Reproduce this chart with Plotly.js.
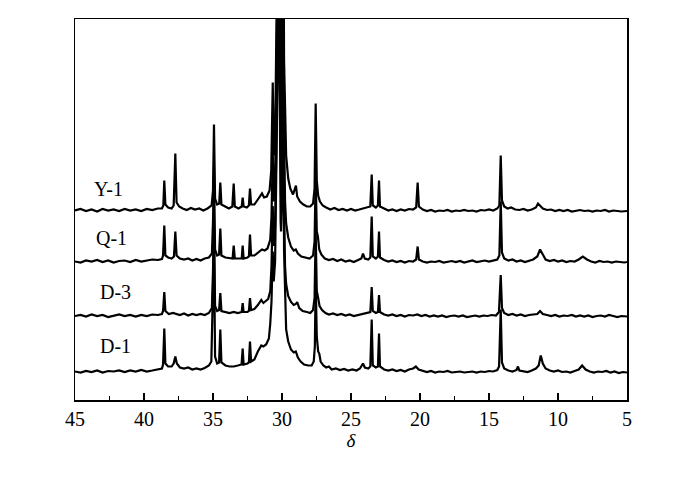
<!DOCTYPE html>
<html>
<head>
<meta charset="utf-8">
<script src="https://cdn.plot.ly/plotly-3.0.1.min.js"></script>
<style>
  body { margin: 0; background: #fff; }
  #chart { width: 700px; height: 481px; }
</style>
</head>
<body>
<div id="chart"></div>
<script>
// sample names, top to bottom
const sampleNames = ['Y-1', 'Q-1', 'D-3', 'D-1'];

// Y-1 : delta and intensity
const y1X = [45, 44.6, 44.2, 43.8, 43.4, 43.0, 42.6, 42.2, 41.8, 41.4, 41.0, 40.6, 40.2, 39.8, 39.4, 39.0, 38.7, 38.6, 38.53, 38.45,
  38.25, 38.0, 37.85, 37.73, 37.64, 37.45, 37.2, 36.9, 36.6, 36.3, 36.0, 35.7, 35.4, 35.1, 35.0, 34.93, 34.85, 34.7, 34.55, 34.47,
  34.39, 34.15, 33.85, 33.6, 33.5, 33.42, 33.15, 32.92, 32.85, 32.78, 32.55, 32.4, 32.32, 32.24, 32.0, 31.75, 31.55, 31.45, 31.3, 31.1,
  30.9, 30.78, 30.67, 30.6, 30.5, 30.4, 30.22, 30.1, 30.07, 30.0, 29.93, 29.85, 29.78, 29.7, 29.55, 29.4, 29.2, 29.05, 28.99, 28.9,
  28.7, 28.45, 28.2, 27.95, 27.75, 27.64, 27.56, 27.48, 27.38, 27.25, 27.05, 26.8, 26.5, 26.2, 25.9, 25.6, 25.3, 25.0, 24.7, 24.4,
  24.1, 23.85, 23.6, 23.5, 23.42, 23.2, 23.05, 22.97, 22.9, 22.6, 22.3, 22.0, 21.7, 21.4, 21.1, 20.8, 20.5, 20.28, 20.17, 20.08,
  19.8, 19.5, 19.2, 18.9, 18.6, 18.3, 18.0, 17.7, 17.4, 17.1, 16.8, 16.5, 16.2, 15.9, 15.6, 15.3, 15.0, 14.7, 14.4, 14.25,
  14.15, 14.06, 13.9, 13.65, 13.4, 13.1, 12.8, 12.5, 12.2, 11.9, 11.6, 11.45, 11.3, 11.1, 10.8, 10.5, 10.2, 9.9, 9.6, 9.3,
  9.0, 8.7, 8.4, 8.1, 7.8, 7.5, 7.2, 6.9, 6.6, 6.3, 6.0, 5.7, 5.4, 5.0];
const y1Y = [0, 1.5, -0.5, 1, -1, 1.5, 0, 1, -0.5, 1.5, 0, 1, -0.5, 1.5, 0.5, 2, 2, 5, 30, 6,
  3, 2, 5, 57, 8, 4, 2, 0.5, 2.5, 1, 2, 0, 2, 5, 20, 86, 12, 6, 7, 28,
  6, 4, 2, 4, 27, 4, 2, 4, 13, 4, 3, 5, 22, 6, 6, 11, 15, 17, 13, 14,
  20, 40, 128, 55, 70, 160, 400, 80, 70, 120, 400, 150, 98, 55, 32, 22, 16, 22, 25, 14,
  9, 6, 4, 4, 7, 22, 107, 30, 15, 9, 5, 3, 1, 2.5, 0.5, 1.5, 0, 1.5, 0, 1,
  2, 2.5, 4, 36, 5, 3, 5, 30, 4, 2, 0, 1, -0.5, 1, 0, 1.5, 1, 3, 28, 4,
  1, -0.5, 0.5, -1, 0, -0.5, 0.5, -1, 0, -0.5, 0.5, -0.5, 0, -1, 0.5, 0, 1, 0, 2, 5,
  55, 10, 4, 2, 3, 1, 0.5, 1.5, 0, 1, 3, 7, 5, 2, 0.5, 1, -0.5, 0.5, -0.5, 0.5,
  -1, 0, 0.5, -0.5, 0, -1, 0, -0.5, 0.5, -1, 0, -0.5, -1, -0.5];

// Q-1
const q1X = [45, 44.6, 44.2, 43.8, 43.4, 43.0, 42.6, 42.2, 41.8, 41.4, 41.0, 40.6, 40.2, 39.8, 39.4, 39.0, 38.7, 38.62, 38.53, 38.45,
  38.25, 38.0, 37.83, 37.73, 37.64, 37.4, 37.1, 36.8, 36.5, 36.2, 35.9, 35.6, 35.3, 35.08, 35.0, 34.93, 34.85, 34.7, 34.56, 34.47,
  34.39, 34.1, 33.8, 33.58, 33.5, 33.42, 33.15, 32.92, 32.85, 32.78, 32.5, 32.4, 32.32, 32.24, 32.0, 31.7, 31.45, 31.25, 31.05, 30.85,
  30.76, 30.67, 30.6, 30.5, 30.4, 30.22, 30.1, 30.07, 30.0, 29.93, 29.85, 29.78, 29.7, 29.55, 29.35, 29.15, 29.0, 28.85, 28.6, 28.3,
  28.0, 27.75, 27.64, 27.56, 27.48, 27.4, 27.3, 27.15, 26.9, 26.6, 26.3, 26.0, 25.7, 25.4, 25.1, 24.8, 24.5, 24.25, 24.13, 24.0,
  23.75, 23.6, 23.5, 23.42, 23.2, 23.05, 22.97, 22.9, 22.6, 22.3, 22.0, 21.7, 21.4, 21.1, 20.8, 20.5, 20.28, 20.17, 20.08, 19.8,
  19.5, 19.2, 18.9, 18.6, 18.3, 18.0, 17.7, 17.4, 17.1, 16.8, 16.5, 16.2, 15.9, 15.6, 15.3, 15.0, 14.7, 14.4, 14.25, 14.15,
  14.06, 13.9, 13.6, 13.3, 13.0, 12.7, 12.4, 12.1, 11.8, 11.5, 11.3, 11.1, 10.9, 10.6, 10.3, 10.0, 9.7, 9.4, 9.1, 8.8,
  8.5, 8.2, 7.9, 7.6, 7.3, 7.0, 6.7, 6.4, 6.1, 5.8, 5.5, 5.2, 5.0];
const q1Y = [0, -1, 1, 0, 1.5, -0.5, 1, -1, 0.5, 1, -0.5, 1.5, 0, 1, 2, 1.5, 2.5, 6, 36, 6,
  4, 3, 5, 30, 6, 3, 2, 3, 1, 2.5, 1, 3, 4, 8, 40, 95, 12, 6, 7, 33,
  6, 4, 3, 3, 16, 3, 3, 3, 16, 3, 4, 5, 27, 6, 6, 9, 12, 11, 13, 22,
  45, 110, 60, 80, 170, 400, 120, 110, 140, 400, 130, 60, 38, 24, 15, 11, 12, 8, 5, 4,
  3, 6, 20, 85, 30, 25, 12, 7, 3, 1.5, 2.5, 0.5, 2, 0, 1, -0.5, 1, 3, 8, 3,
  2, 4, 45, 5, 3, 5, 30, 4, 1.5, 0, 1, -0.5, 0.5, -1, 0.5, 0, 2, 15, 2, 0,
  -1, 0, -0.5, 0.5, -1, 0, 0.5, -0.5, 0.5, -1, 0, 1, -0.5, 0.5, 1, 0, 1, 2, 6, 60,
  9, 3, 1, 2, 0, 1, -0.5, 1, 2, 5, 12, 7, 2, 0.5, 1.5, 0, 1, -0.5, 0.5, 0,
  2, 5, 2, 0, -1, 0.5, -0.5, 0, -1, 0, -0.5, -1, -0.5];

// D-3
const d3X = [45, 44.6, 44.2, 43.8, 43.4, 43.0, 42.6, 42.2, 41.8, 41.4, 41.0, 40.6, 40.2, 39.8, 39.4, 39.0, 38.7, 38.62, 38.53, 38.45,
  38.2, 37.9, 37.7, 37.4, 37.1, 36.8, 36.5, 36.2, 35.9, 35.6, 35.3, 35.08, 35.0, 34.93, 34.85, 34.7, 34.56, 34.47, 34.39, 34.1,
  33.8, 33.5, 33.2, 32.92, 32.85, 32.78, 32.5, 32.4, 32.32, 32.24, 32.0, 31.75, 31.5, 31.35, 31.2, 31.0, 30.85, 30.76, 30.67, 30.6,
  30.5, 30.4, 30.22, 30.1, 30.07, 30.0, 29.93, 29.85, 29.78, 29.7, 29.55, 29.35, 29.15, 29.0, 28.9, 28.75, 28.5, 28.2, 27.95, 27.75,
  27.64, 27.56, 27.48, 27.38, 27.28, 27.1, 26.85, 26.6, 26.3, 26.0, 25.7, 25.4, 25.1, 24.8, 24.5, 24.2, 23.9, 23.6, 23.5, 23.42,
  23.2, 23.05, 22.97, 22.9, 22.6, 22.3, 22.0, 21.7, 21.4, 21.1, 20.8, 20.5, 20.2, 19.9, 19.6, 19.3, 19.0, 18.7, 18.4, 18.1,
  17.8, 17.5, 17.2, 16.9, 16.6, 16.3, 16.0, 15.7, 15.4, 15.1, 14.8, 14.5, 14.28, 14.15, 14.06, 13.9, 13.6, 13.3, 13.0, 12.7,
  12.4, 12.1, 11.8, 11.5, 11.3, 11.1, 10.8, 10.5, 10.2, 9.9, 9.6, 9.3, 9.0, 8.7, 8.4, 8.1, 7.8, 7.5, 7.2, 6.9,
  6.6, 6.3, 6.0, 5.7, 5.4, 5.0];
const d3Y = [0, 1, -0.5, 1.5, 0, 1, -1, 0.5, 1.5, 0, 1, -0.5, 1, 0, 1.5, 1, 2, 5, 24, 5,
  2, 3, 2, 1, 2.5, 0.5, 2, 1, 2, 1, 3, 8, 45, 100, 10, 5, 6, 23, 5, 4,
  3, 4, 3, 4, 13, 4, 4, 5, 18, 6, 7, 11, 16, 13, 15, 17, 25, 50, 110, 70,
  90, 180, 400, 130, 120, 150, 400, 110, 50, 32, 20, 14, 11, 12, 14, 8, 5, 4, 3, 6,
  18, 85, 25, 18, 10, 6, 3, 1.5, 2.5, 1, 2, 0.5, 1.5, 0, 1, 2, 2.5, 4, 29, 5,
  3, 4, 21, 4, 1.5, 0.5, 1.5, 0, 1, -0.5, 1, 0.5, 1.5, 0, 1, -0.5, 0.5, -0.5, 0.5, -1,
  0, 0.5, -0.5, 0.5, -1, 0, 0.5, -0.5, 0.5, 0, 1, 0.5, 4, 41, 8, 3, 1, 2, 0.5, 1.5,
  0, 1, 1.5, 2, 5, 2, 1, 0, 1, -0.5, 0.5, 0, 1, -0.5, 0.5, -0.5, 0.5, -1, 0, 0.5,
  -0.5, 1, 0, -1, 0, -0.5];

// D-1
const d1X = [45, 44.6, 44.2, 43.8, 43.4, 43.0, 42.6, 42.2, 41.8, 41.4, 41.0, 40.6, 40.2, 39.8, 39.4, 39.0, 38.7, 38.62, 38.53, 38.45,
  38.25, 38.0, 37.85, 37.73, 37.62, 37.4, 37.1, 36.8, 36.5, 36.2, 35.9, 35.6, 35.3, 35.12, 35.02, 34.93, 34.85, 34.7, 34.56, 34.47,
  34.39, 34.1, 33.8, 33.5, 33.2, 32.93, 32.85, 32.78, 32.5, 32.4, 32.32, 32.24, 32.0, 31.75, 31.5, 31.35, 31.15, 30.95, 30.85, 30.76,
  30.67, 30.6, 30.5, 30.4, 30.22, 30.1, 30.07, 30.0, 29.93, 29.85, 29.78, 29.7, 29.55, 29.35, 29.15, 29.0, 28.85, 28.65, 28.4, 28.1,
  27.85, 27.7, 27.62, 27.56, 27.48, 27.38, 27.3, 27.2, 27.0, 26.8, 26.6, 26.4, 26.1, 25.8, 25.5, 25.2, 24.9, 24.6, 24.35, 24.13,
  24.0, 23.75, 23.6, 23.5, 23.42, 23.2, 23.05, 22.97, 22.9, 22.6, 22.3, 22.0, 21.7, 21.4, 21.1, 20.8, 20.5, 20.3, 20.1, 19.8,
  19.5, 19.2, 18.9, 18.6, 18.3, 18.0, 17.7, 17.4, 17.1, 16.8, 16.5, 16.2, 15.9, 15.6, 15.3, 15.0, 14.7, 14.4, 14.27, 14.15,
  14.06, 13.9, 13.6, 13.3, 13.0, 12.9, 12.8, 12.5, 12.2, 11.9, 11.6, 11.4, 11.25, 11.1, 10.9, 10.6, 10.3, 10.0, 9.7, 9.4,
  9.1, 8.8, 8.5, 8.25, 8.0, 7.7, 7.4, 7.1, 6.8, 6.5, 6.2, 5.9, 5.6, 5.3, 5.0];
const d1Y = [0, -1, 0.5, -0.5, 1, -1, 0.5, 0, 1, -0.5, 1, 0, 1.5, 0, 1, 2, 3, 7, 43, 8,
  5, 5, 8, 15, 8, 4, 3, 4, 2, 3, 2, 3.5, 6, 10, 60, 130, 15, 8, 9, 42,
  9, 6, 5, 5, 6, 7, 23, 7, 8, 9, 30, 10, 12, 20, 26, 25, 27, 33, 48, 70,
  120, 90, 110, 200, 400, 150, 140, 170, 400, 120, 75, 42, 30, 22, 19, 20, 14, 10, 7, 6,
  6, 10, 25, 90, 35, 20, 18, 10, 6, 4, 5, 2, 3, 1.5, 2.5, 1, 2, 1, 3, 8,
  4, 3, 5, 52, 6, 4, 5, 38, 5, 2, 1, 2, 0.5, 1.5, 0, 2, 3, 5, 2, 0.5,
  -0.5, 0.5, -1, 0, -0.5, 0.5, -1, -0.5, 0, -1, -0.5, 0, -1, 0, -0.5, 0.5, 0, 1.5, 5, 62,
  9, 3, 1, 0, 1.5, 5, 1, 0, -0.5, 1, 3, 6, 16, 8, 3, 1, 0, 1, -0.5, 0,
  -1, 0.5, 2, 6, 2, 0, -1, 0, -0.5, 0.5, -1, 0, -1.5, -0.5, -1];

// vertical shift of each pattern in the stack
const offsets = [189.5, 138.5, 84, 28.5];

const xSets = [y1X, q1X, d3X, d1X];
const ySets = [y1Y, q1Y, d3Y, d1Y];

const traces = sampleNames.map(function(name, i) {
  return {
    x: xSets[i],
    y: ySets[i].map(function(v) { return v + offsets[i]; }),
    name: name,
    mode: 'lines',
    type: 'scatter',
    line: { color: '#000', width: 2.2 },
    hoverinfo: 'skip'
  };
});

const serif = '"Liberation Serif", "Times New Roman", serif';

// sample labels on the left side
const labelPos = [[42.57, 211], [42.39, 162], [42.03, 108], [42.03, 54]];
const annotations = sampleNames.map(function(name, i) {
  return {
    x: labelPos[i][0], y: labelPos[i][1],
    xref: 'x', yref: 'y',
    text: name, showarrow: false,
    font: { family: serif, size: 20, color: '#000' }
  };
});

const layout = {
  width: 700,
  height: 481,
  margin: { l: 75, r: 73, t: 19, b: 81 },
  paper_bgcolor: '#fff',
  plot_bgcolor: '#fff',
  showlegend: false,
  font: { family: serif, size: 19, color: '#000' },
  xaxis: {
    range: [45, 5],
    tick0: 5,
    dtick: 5,
    ticks: 'inside',
    ticklen: 7,
    tickwidth: 1.5,
    tickcolor: '#000',
    minor: { dtick: 2.5, ticks: 'inside', ticklen: 4, tickwidth: 1.5, tickcolor: '#000' },
    showline: true,
    mirror: true,
    linecolor: '#000',
    linewidth: 1.5,
    showgrid: false,
    zeroline: false,
    tickfont: { family: serif, size: 20, color: '#000' },
    title: { text: '<i>δ</i>', font: { family: serif, size: 19, color: '#000' }, standoff: 5 }
  },
  yaxis: {
    range: [0, 381],
    showticklabels: false,
    ticks: '',
    showline: true,
    mirror: true,
    linecolor: '#000',
    linewidth: 1.5,
    showgrid: false,
    zeroline: false
  },
  annotations: annotations
};

Plotly.newPlot('chart', traces, layout, { staticPlot: true, displayModeBar: false });
</script>
</body>
</html>
